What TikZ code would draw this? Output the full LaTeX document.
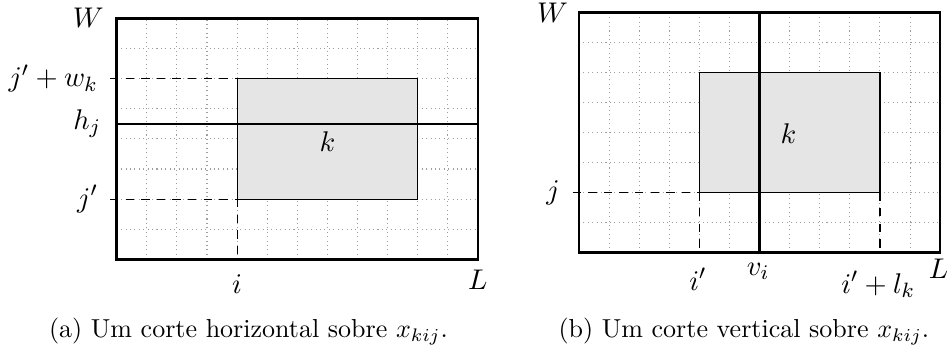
\documentclass[tikz,border=0pt]{standalone}
\begin{document}
\begin{tikzpicture}[
  framebox/.style={line width=1pt},
  cutline/.style={line width=1pt},
  itembox/.style={fill=gray!20, draw=black, line width=0.45pt},
  guide/.style={line width=0.45pt, dash pattern=on 3.2pt off 2.8pt},
  gridline/.style={gray!75, line width=0.4pt, dash pattern=on 0.4pt off 1.3pt},
  lab/.style={font=\fontsize{11.3}{13}\selectfont, inner sep=0pt},
  captext/.style={font=\fontsize{10}{12}\selectfont, inner sep=0pt, anchor=base}
]
\useasboundingbox (0,0) rectangle (365pt,135.77pt);

% ---------- (a) horizontal cut ----------
\begin{scope}[shift={(44.88pt,36.04pt)}, x=11.577pt, y=11.577pt]
  \coordinate (a0) at (0,0);
  \coordinate (a1) at (12,8);
  \draw[gridline, xstep=11.577pt, ystep=11.577pt] (a0) grid (a1);
  \coordinate (ak0) at (4,2);
  \coordinate (ak1) at (10,6);
  \draw[itembox] (ak0) rectangle (ak1);
  \coordinate (ajl) at (-0.22,2);
  \coordinate (awl) at (-0.22,6);
  \coordinate (akt) at (4,6);
  \coordinate (aib) at (4,0);
  \draw[guide] (awl) -- (akt);
  \draw[guide] (ajl) -- (ak0);
  \draw[guide] (ak0) -- (aib);
  \coordinate (ahl) at (0,4.5);
  \coordinate (ahr) at (12,4.5);
  \draw[cutline] (ahl) -- (ahr);
  \draw[framebox] (a0) rectangle (a1);
  \node[lab] (aW) at (-0.94,8.03) {$W$};
  \node[lab, anchor=east] (ajw) at (-0.61,6) {$j'+w_k$};
  \node[lab, anchor=east] (ahj) at (-0.5,4.5) {$h_j$};
  \node[lab, anchor=east] (ajp) at (-0.61,2) {$j'$};
  \node[lab, anchor=base] (ai) at (4,-1.13) {$i$};
  \node[lab, anchor=base] (aL) at (12,-1.0) {$L$};
  \node[lab] (ak) at (7,3.9) {$k$};
\end{scope}

% ---------- (b) vertical cut ----------
\begin{scope}[shift={(222.68pt,38.65pt)}, x=11.577pt, y=11.55pt]
  \coordinate (b0) at (0,0);
  \coordinate (b1) at (12,8);
  \draw[gridline, xstep=11.577pt, ystep=11.55pt] (b0) grid (b1);
  \coordinate (bk0) at (4,2);
  \coordinate (bk1) at (10,6);
  \coordinate (bkr) at (10,2);
  \draw[itembox] (bk0) rectangle (bk1);
  \coordinate (bjl) at (-0.21,2);
  \coordinate (bib) at (4,0);
  \coordinate (bjb) at (10,0);
  \draw[guide] (bjl) -- (bk0);
  \draw[guide] (bk0) -- (bib);
  \draw[guide] (bkr) -- (bjb);
  \coordinate (bvb) at (6,0);
  \coordinate (bvt) at (6,8);
  \draw[cutline] (bvb) -- (bvt);
  \draw[framebox] (b0) rectangle (b1);
  \node[lab] (bW) at (-0.88,7.97) {$W$};
  \node[lab, anchor=east] (bj) at (-0.62,2) {$j$};
  \node[lab, anchor=base] (bip) at (3.95,-1.25) {$i'$};
  \node[lab, anchor=base] (bvi) at (5.95,-0.76) {$v_i$};
  \node[lab, anchor=base] (bil) at (9.94,-1.35) {$i'+l_k$};
  \node[lab, anchor=base] (bL) at (11.95,-0.86) {$L$};
  \node[lab] (bk) at (6.96,3.96) {$k$};
\end{scope}

% ---------- captions ----------
\node[captext] (capa) at (95.57pt,5.8pt) {(a) Um corte horizontal sobre $x_{kij}$.};
\node[captext] (capb) at (286.1pt,5.8pt) {(b) Um corte vertical sobre $x_{kij}$.};
\end{tikzpicture}
\end{document}
